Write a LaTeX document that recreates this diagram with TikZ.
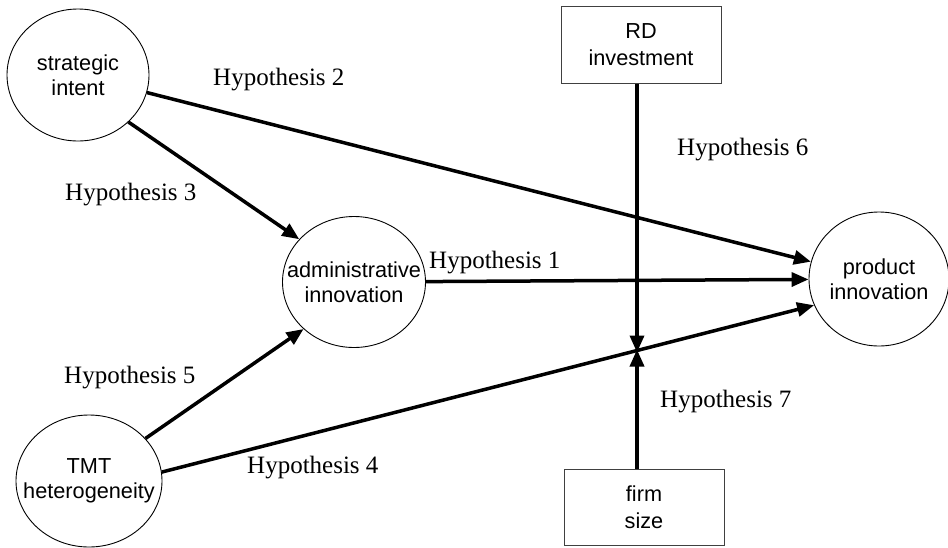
\documentclass[tikz,border=0pt]{standalone}
\usepackage{fontspec}
\setmainfont{Liberation Serif}
\setsansfont{Liberation Sans}
\usetikzlibrary{shapes.geometric, arrows.meta}
\tikzstyle{construct} = [ellipse, 
draw=black, 
line width=0.9pt, 
inner sep=0pt]
\tikzstyle{ctext} = [align=center, 
font=\sffamily\fontsize{21.7}{25}\selectfont]
\tikzstyle{control} = [rectangle, 
minimum width=160pt, 
minimum height=77pt, 
text centered, 
draw=black!75, 
line width=1pt, 
align=center, 
font=\sffamily\fontsize{21.7}{27.5}\selectfont]
\tikzstyle{hyp} = [anchor=base west, 
inner sep=0pt, 
font=\fontsize{25}{30}\selectfont]
\tikzstyle{arrow} = [line width=3.5pt, -{Triangle[length=17pt, width=14pt]}]

\begin{document}
\begin{tikzpicture}[x=1pt, y=-1pt]
\useasboundingbox (0,0) rectangle (948,547);

\node (intent) [construct, minimum width=142pt, minimum height=132pt, label={[ctext]center:{strategic\\intent}}] at (78,75) {};

\node (admin) [construct, minimum width=143pt, minimum height=131pt, label={[ctext]center:{administrative\\innovation}}] at (354,282) {};

\node (product) [construct, minimum width=140pt, minimum height=134pt, label={[ctext]center:{product\\innovation}}] at (879,279) {};

\node (tmt) [construct, minimum width=146pt, minimum height=132pt, label={[ctext]center:{TMT\\heterogeneity}}] at (89,481) {};

\node (rd) [control] at (641,44.5) {RD\\investment};

\node (firm) [control, minimum height=76pt] at (644,507) {firm\\size};

\coordinate (meet) at (637,351);

\node (h1) [hyp] at (429,268) {Hypothesis 1};
\node (h2) [hyp] at (213,85) {Hypothesis 2};
\node (h3) [hyp] at (65,200) {Hypothesis 3};
\node (h4) [hyp] at (247,473) {Hypothesis 4};
\node (h5) [hyp] at (64,383) {Hypothesis 5};
\node (h6) [hyp] at (677,155) {Hypothesis 6};
\node (h7) [hyp] at (660,407) {Hypothesis 7};

\draw [arrow] (admin) -- (product);
\draw [arrow] (intent) -- (product);
\draw [arrow] (intent.317) -- (admin.142);
\draw [arrow] (tmt.7) -- (product.202);
\draw [arrow] (tmt.37) -- (admin.223);
\draw [arrow] (rd.south -| meet) -- ([yshift=-1.5pt]meet);
\draw [arrow] (firm.north -| meet) -- ([yshift=1.5pt]meet);
\end{tikzpicture}
\end{document}
